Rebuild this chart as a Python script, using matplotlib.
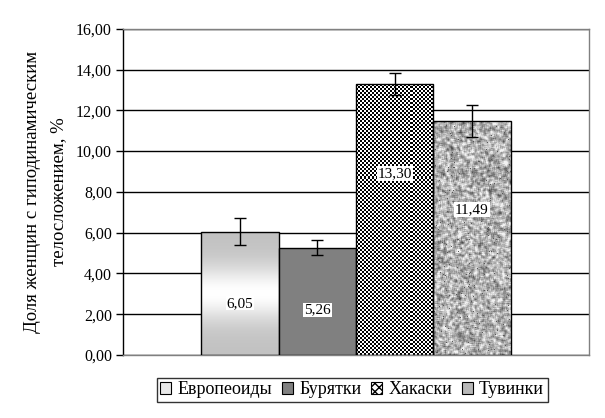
import numpy as np
import matplotlib
matplotlib.use("Agg")
import matplotlib.pyplot as plt
from matplotlib.patches import Patch
from matplotlib.ticker import FuncFormatter, MultipleLocator
from numpy.lib.stride_tricks import sliding_window_view

plt.rcParams['font.family'] = ['Liberation Serif', 'DejaVu Serif']

# ---- data ----
groups = ["Европеоиды", "Бурятки", "Хакаски", "Тувинки"]
values = [6.05, 5.26, 13.30, 11.49]
errors = [0.68, 0.37, 0.55, 0.78]
value_labels = ["6,05", "5,26", "13,30", "11,49"]
ylabel_lines = ["Доля женщин с гиподинамическим", "телосложением, %"]

# ---- style ----
label_frac = [0.42, 0.42, 0.67, 0.62]   # vertical placement of value labels within bars

fig = plt.figure(figsize=(6.05, 4.18), dpi=100)
ax = fig.add_axes([0.2033, 0.1507, 0.9736 - 0.2033, 0.9313 - 0.1507])

x = np.arange(len(groups)) - (len(groups) - 1) / 2.0
bars = ax.bar(x, values, width=1.0, facecolor='none', edgecolor='black',
              linewidth=1.0, zorder=3)

ax.set_xlim(-3.015, 3.015)
ax.set_ylim(0, 16)


def gradient_img():
    t = np.linspace(0, 1, 200)
    v = 0.76 + 0.24 * np.exp(-((t - 0.5) / 0.22) ** 2)
    img = np.repeat(v[:, None], 10, axis=1)
    return np.dstack([img, img, img])


def checker_img(w_px, h_px, cell=2):
    nx = int(w_px / cell) + 1
    ny = int(h_px / cell) + 1
    yy, xx = np.mgrid[0:ny, 0:nx]
    c = ((xx + yy) % 2).astype(float)
    return np.dstack([c, c, c]), nx * cell, ny * cell


def granite_img(w_px, h_px):
    rng = np.random.default_rng(7)
    n = rng.random((h_px, w_px))
    p = np.pad(n, 1, mode='edge')
    s = sliding_window_view(p, (3, 3)).mean(axis=(2, 3))
    s = (s - s.mean()) / s.std()
    v = 0.70 + 0.12 * s
    specks = rng.random((h_px, w_px)) < 0.01
    v[specks] = 0.35
    v = np.clip(v, 0.3, 0.95)
    return np.dstack([v, v, v])


fig.canvas.draw()
trans = ax.transData
inv = trans.inverted()
for i, b in enumerate(bars):
    x0, w, h = b.get_x(), b.get_width(), b.get_height()
    p0 = trans.transform((x0, 0))
    p1 = trans.transform((x0 + w, h))
    wpx = int(abs(p1[0] - p0[0])) + 1
    hpx = int(abs(p1[1] - p0[1])) + 1
    if i == 0:
        img = gradient_img()
        im = ax.imshow(img, extent=(x0, x0 + w, 0, h), aspect='auto',
                       interpolation='bilinear', zorder=2)
    elif i == 1:
        b.set_facecolor('#808080')
        continue
    elif i == 2:
        img, W, H = checker_img(wpx, hpx)
        q = inv.transform((p0[0] + W, p0[1] + H))
        im = ax.imshow(img, extent=(x0, q[0], 0, q[1]), aspect='auto',
                       origin='lower', interpolation='nearest', zorder=2)
    else:
        img = granite_img(wpx, hpx)
        im = ax.imshow(img, extent=(x0, x0 + w, 0, h), aspect='auto',
                       interpolation='nearest', zorder=2)
    im.set_clip_path(b)

ax.errorbar(x, values, yerr=errors, fmt='none', ecolor='black',
            elinewidth=1.0, capsize=4, capthick=1.0, zorder=5)

for xi, v, lab, f in zip(x, values, value_labels, label_frac):
    ax.text(xi, v * f, lab, ha='center', va='center', fontsize=11,
            zorder=6, bbox=dict(facecolor='white', edgecolor='none', pad=0.5))

ax.yaxis.set_major_locator(MultipleLocator(2))
ax.yaxis.set_major_formatter(FuncFormatter(lambda v, p: f"{v:.2f}".replace('.', ',')))
ax.grid(axis='y', color='black', linewidth=1.0, zorder=0)
ax.set_axisbelow(True)
ax.set_xticks([])

for s in ['top', 'right', 'bottom']:
    ax.spines[s].set_color('#808080')
    ax.spines[s].set_linewidth(1.0)
ax.spines['left'].set_color('black')
ax.spines['left'].set_linewidth(1.0)
ax.tick_params(axis='y', direction='out', length=5, width=1, labelsize=11.5,
               pad=3, colors='black')

for xf, line in zip([33 / 605, 59 / 605], ylabel_lines):
    fig.text(xf, 0.541, line, rotation=90, ha='center', va='center',
             fontsize=13.5)

handles = [
    Patch(facecolor='#e8e8e8', edgecolor='black', linewidth=0.8),
    Patch(facecolor='#808080', edgecolor='black', linewidth=0.8),
    Patch(facecolor='white', edgecolor='black', linewidth=0.8, hatch='xxxx'),
    Patch(facecolor='#b8b8b8', edgecolor='black', linewidth=0.8),
]
leg = fig.legend(handles, groups, loc='center', bbox_to_anchor=(0.582, 0.067),
                 ncol=4, fontsize=13, frameon=True, fancybox=False,
                 handlelength=0.6, handleheight=0.6, handletextpad=0.35,
                 columnspacing=0.55, borderpad=0.2)
leg.get_frame().set_edgecolor('black')
leg.get_frame().set_linewidth(1.0)

fig.savefig("out.png", dpi=100)
